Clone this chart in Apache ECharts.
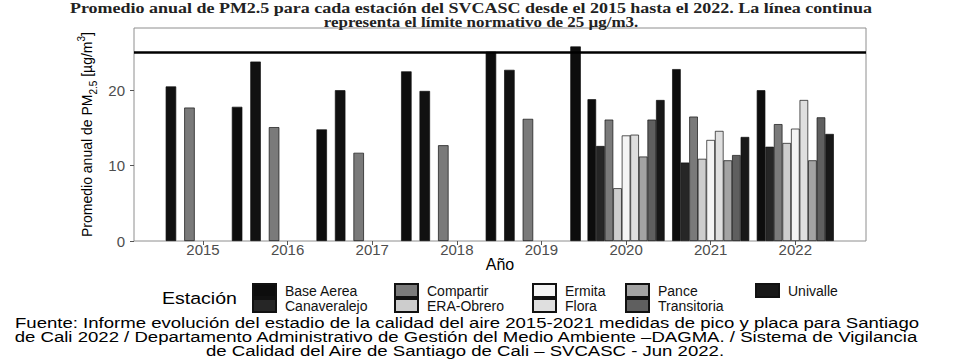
<!DOCTYPE html>
<html>
<head>
<meta charset="utf-8">
<script src="https://cdn.jsdelivr.net/npm/echarts@6/dist/echarts.min.js"></script>
<style>
  html, body { margin: 0; padding: 0; background: #ffffff; }
  #chart { width: 953px; height: 360px; }
</style>
</head>
<body>
<div id="chart"></div>
<script>
// ---------------- DATA ----------------
const years = [2015, 2016, 2017, 2018, 2019, 2020, 2021, 2022];
const stations = ['Base Aerea', 'Canaveralejo', 'Compartir', 'ERA-Obrero', 'Ermita', 'Flora', 'Pance', 'Transitoria', 'Univalle'];

// Early period: three bars drawn at each year position (2015-2020)
const earlyYears = [2015, 2016, 2017, 2018, 2019, 2020];
const earlyBaseAerea   = [null, 17.8, 14.8, 22.5, 25.1, 25.8];
const earlyCanaveralejo = [20.5, 23.8, 20.0, 19.9, 22.7, null];
const earlyCompartir   = [17.7, 15.1, 11.7, 12.7, 16.2, null];

// 2020-2022: all stations
const lateYears = [2020, 2021, 2022];
const baseAerea   = [18.8, 22.8, 20.0];
const canaveralejo = [12.6, 10.4, 12.5];
const compartir   = [16.1, 16.5, 15.5];
const eraObrero   = [7.0, 10.9, 13.0];
const ermita      = [14.0, 13.4, 14.9];
const flora       = [14.1, 14.6, 18.7];
const pance       = [11.2, 10.7, 10.7];
const transitoria = [16.1, 11.4, 16.4];
const univalle    = [18.7, 13.8, 14.2];

const limitValue = 25;
const yTickValues = [0, 10, 20];

const titleLines = [
  'Promedio anual de PM2.5 para cada estación del SVCASC desde el 2015 hasta el 2022. La línea continua',
  'representa el límite normativo de 25 µg/m3.'
];
const captionLines = [
  'Fuente: Informe evolución del estadio de la calidad del aire 2015-2021 medidas de pico y placa para Santiago',
  'de Cali 2022 / Departamento Administrativo de Gestión del Medio Ambiente –DAGMA. / Sistema de Vigilancia',
  'de Calidad del Aire de Santiago de Cali – SVCASC - Jun 2022.'
];
const legendTitle = 'Estación';
const xTitle = 'Año';

// ---------------- LAYOUT / STYLE ----------------
const xMin = 2014.1845, xMax = 2022.8356;
const lateSlot = 0.1012;                       // dodge step in year units
const earlyOffsets = [-0.597, -0.379, -0.160]; // dodge offsets for early bars
const stationColors = ['#0d0d0d', '#262626', '#7a7a7a', '#cdcdcd', '#f4f4f4', '#dfdfdf', '#a3a3a3', '#5f5f5f', '#181818'];
const earlyColors = ['#0d0d0d', '#111111', '#7a7a7a'];
const sansFont = '"Liberation Sans", Arial, sans-serif';

const lateValues = [baseAerea, canaveralejo, compartir, eraObrero, ermita, flora, pance, transitoria, univalle];
const earlyValues = [earlyBaseAerea, earlyCanaveralejo, earlyCompartir];

const series = [];
stations.forEach((name, i) => {
  const s = {
    type: 'bar', name, xAxisIndex: 0, yAxisIndex: 0,
    barWidth: 8.6, barGap: '-100%',
    itemStyle: { color: stationColors[i], borderColor: '#111', borderWidth: 0.7 },
    data: lateYears.map((yr, j) => [yr + (i - 4) * lateSlot, lateValues[i][j]])
  };
  if (i === 0) {
    s.markLine = {
      silent: true, symbol: ['none', 'none'], label: { show: false },
      lineStyle: { color: '#000', width: 2.6, type: 'solid' },
      data: [{ yAxis: limitValue }]
    };
  }
  series.push(s);
});
earlyValues.forEach((arr, k) => {
  series.push({
    type: 'bar', name: stations[k], xAxisIndex: 1, yAxisIndex: 0,
    barWidth: 10.5, barGap: '-100%',
    itemStyle: { color: earlyColors[k], borderColor: '#111', borderWidth: 0.7 },
    data: earlyYears.map((yr, j) => [yr + earlyOffsets[k], arr[j]]).filter(d => d[1] != null)
  });
});

const legendColumns = [['Base Aerea', 'Canaveralejo'], ['Compartir', 'ERA-Obrero'], ['Ermita', 'Flora'], ['Pance', 'Transitoria'], ['Univalle']];
const legendLefts = [252, 394, 532, 625, 755];
const legends = legendColumns.map((cols, c) => ({
  orient: 'vertical', left: legendLefts[c], top: 283, padding: 0,
  itemWidth: 23, itemHeight: 13, itemGap: 0, icon: 'rect',
  selectedMode: false, data: cols,
  textStyle: { fontSize: 14, color: '#111', fontFamily: sansFont, lineHeight: 15, padding: [0, 0, 0, 4] }
}));

const xAxisBase = {
  type: 'value', min: xMin, max: xMax, gridIndex: 0,
  axisLine: { show: false }, splitLine: { show: false }
};

const option = {
  animation: false,
  backgroundColor: '#ffffff',
  grid: { left: 134, right: 87, top: 28, bottom: 119, show: true, borderColor: '#8e8e8e', borderWidth: 1 },
  legend: legends,
  xAxis: [
    Object.assign({}, xAxisBase, {
      axisTick: { show: true, length: 4, lineStyle: { color: '#555' }, customValues: years },
      axisLabel: { customValues: years, formatter: v => String(Math.round(v)), color: '#4d4d4d', fontSize: 15, fontFamily: sansFont, margin: 1 },
      name: xTitle, nameLocation: 'middle', nameGap: 15, nameMoveOverlap: false,
      nameTextStyle: { fontSize: 16, color: '#000', fontFamily: sansFont }
    }),
    Object.assign({}, xAxisBase, { show: false })
  ],
  yAxis: {
    type: 'value', min: 0, max: 28.25,
    axisLine: { show: false }, splitLine: { show: false },
    axisTick: { show: true, length: 4, lineStyle: { color: '#555' }, customValues: yTickValues },
    axisLabel: { customValues: yTickValues, color: '#4d4d4d', fontSize: 15, fontFamily: sansFont, margin: 9 },
    name: 'Promedio anual de PM{sub|2.5} [µg/m{sup|3}]',
    nameLocation: 'middle', nameGap: 36, nameRotate: 90, nameMoveOverlap: false,
    nameTextStyle: {
      fontSize: 14, color: '#000', fontFamily: sansFont, lineHeight: 22,
      rich: {
        sub: { fontSize: 10, color: '#000', fontFamily: sansFont, verticalAlign: 'bottom', lineHeight: 22 },
        sup: { fontSize: 10, color: '#000', fontFamily: sansFont, verticalAlign: 'top', lineHeight: 22 }
      }
    }
  },
  graphic: [
    { type: 'text', x: 471, y: 8.5, scaleX: 1.2, style: { text: titleLines[0], font: 'bold 15px "Liberation Serif", serif', fill: '#222', textAlign: 'center', textVerticalAlign: 'middle' } },
    { type: 'text', x: 481, y: 21.5, scaleX: 1.13, style: { text: titleLines[1], font: 'bold 15px "Liberation Serif", serif', fill: '#222', textAlign: 'center', textVerticalAlign: 'middle' } },
    { type: 'text', x: 162, y: 298, scaleX: 1.15, style: { text: legendTitle, font: '17px "Liberation Sans", Arial, sans-serif', fill: '#000', textAlign: 'left', textVerticalAlign: 'middle' } },
    { type: 'text', x: 467, y: 323, scaleX: 1.29, style: { text: captionLines[0], font: '14.4px "Liberation Sans", Arial, sans-serif', fill: '#000', textAlign: 'center', textVerticalAlign: 'middle' } },
    { type: 'text', x: 466, y: 337, scaleX: 1.29, style: { text: captionLines[1], font: '14.4px "Liberation Sans", Arial, sans-serif', fill: '#000', textAlign: 'center', textVerticalAlign: 'middle' } },
    { type: 'text', x: 465, y: 351, scaleX: 1.29, style: { text: captionLines[2], font: '14.4px "Liberation Sans", Arial, sans-serif', fill: '#000', textAlign: 'center', textVerticalAlign: 'middle' } }
  ],
  series
};

const chart = echarts.init(document.getElementById('chart'), null, { renderer: 'svg', width: 953, height: 360 });
chart.setOption(option);
</script>
</body>
</html>
